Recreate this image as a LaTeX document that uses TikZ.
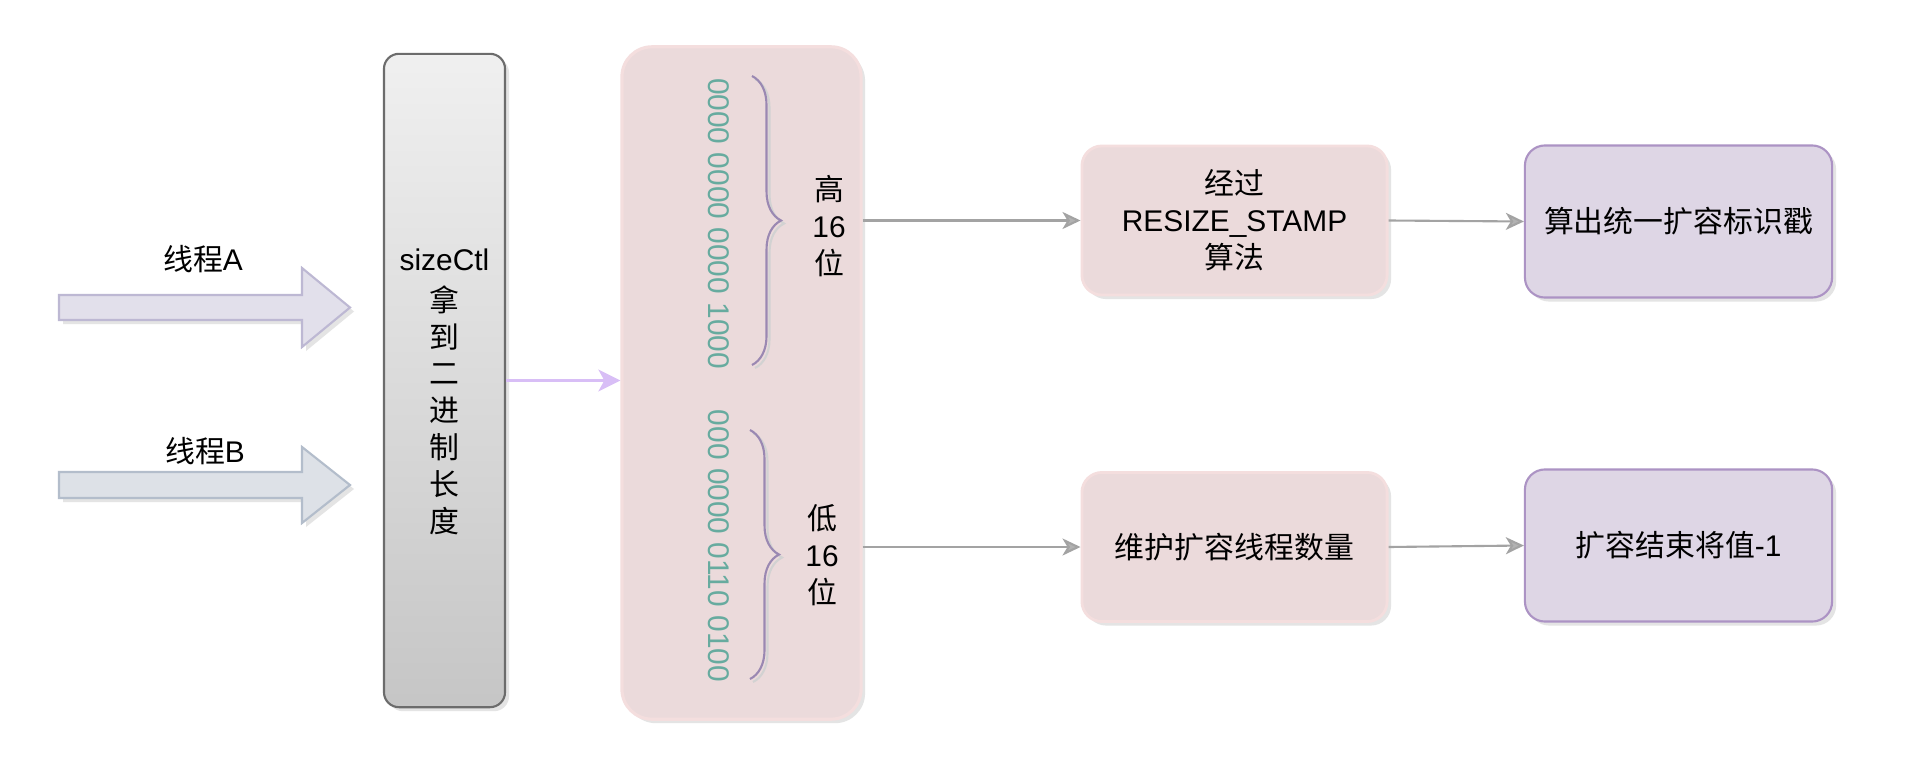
\documentclass[tikz,border=0pt]{standalone}
\usepackage{fontspec}
\setmainfont{Liberation Sans}
\newfontfamily\cjk{Noto Sans CJK SC}
\usetikzlibrary{arrows.meta,shadows,decorations.pathreplacing}

\definecolor{binGreen}{HTML}{67AB9F}
\definecolor{pinkFill}{HTML}{EBDADB}
\definecolor{pinkLine}{HTML}{F4DEDE}
\definecolor{purpFill}{HTML}{DED6E5}
\definecolor{purpLine}{HTML}{AC93C4}
\definecolor{braceCol}{HTML}{9A88B2}
\definecolor{linkGray}{HTML}{A3A3A3}
\definecolor{linkPurp}{HTML}{D8BEF6}
\definecolor{threadFillA}{HTML}{E2E0EB}
\definecolor{threadLineA}{HTML}{BDB8D3}
\definecolor{threadFillB}{HTML}{DDE1E7}
\definecolor{threadLineB}{HTML}{B3BDCB}

\tikzset{
	every node/.style={font=\fontsize{8.5}{10.5}\selectfont, inner sep=0pt},
	dshadow/.style={drop shadow={shadow xshift=0.04cm, shadow yshift=-0.04cm, opacity=0.3, fill=gray!70}},
	ctlbox/.style={draw=gray!85!black, line width=0.6pt, top color=gray!12, bottom color=gray!45,
		rounded corners=0.15cm, minimum width=1.21cm, minimum height=6.53cm, dshadow},
	bitbox/.style={draw=pinkLine, line width=0.9pt, fill=pinkFill, rounded corners=0.3cm,
		minimum width=2.39cm, minimum height=6.72cm, dshadow},
	pinkbox/.style={draw=pinkLine, line width=0.8pt, fill=pinkFill, rounded corners=0.2cm,
		minimum width=3.05cm, minimum height=1.49cm, align=center, dshadow},
	purpbox/.style={draw=purpLine, line width=0.6pt, fill=purpFill, rounded corners=0.2cm,
		minimum width=3.07cm, minimum height=1.52cm, align=center, dshadow},
	bits/.style={text=binGreen, rotate=-90},
	halfbrace/.style={decorate, decoration={brace, amplitude=0.29cm}, draw=braceCol, line width=0.6pt},
	link/.style={draw=linkGray, line width=0.6pt, -{Stealth[length=0.18cm, width=0.17cm, inset=0.05cm, fill=gray!60]}},
	feed/.style={draw=linkPurp, line width=0.6pt, -{Stealth[length=0.22cm, width=0.22cm, inset=0.06cm]}},
}

\begin{document}
\begin{tikzpicture}[x=0.01cm, y=-0.01cm]
	\useasboundingbox[fill=white] (0,0) rectangle (1928,782);

	% Thread arrows
	\draw[fill=threadFillA, draw=threadLineA, line width=0.6pt, dshadow]
		(59,295) -- (302,295) -- (302,268) -- (350,307.5) -- (302,347) -- (302,320) -- (59,320) -- cycle;
	\draw[fill=threadFillB, draw=threadLineB, line width=0.6pt, dshadow]
		(59,472) -- (302,472) -- (302,447) -- (350,485) -- (302,523) -- (302,498) -- (59,498) -- cycle;
	\node (threadA) at (203,259) {{\cjk 线程}A};
	\node (threadB) at (205,451) {{\cjk 线程}B};

	% sizeCtl
	\node[ctlbox] (sizectl) at (444.5,380.5) {};
	\node[align=center] (ctltext) at (444.5,392) {sizeCtl\\[1pt]{\cjk 拿}\\{\cjk 到}\\{\cjk 二}\\{\cjk 进}\\{\cjk 制}\\{\cjk 长}\\{\cjk 度}};

	% Binary value
	\node[bitbox] (bigbox) at (741.5,383) {};
	\node[bits] (hibits) at (719,223.5) {0000 0000 0000 1000};
	\node[bits] (lobits) at (719,546) {000 0000 0110 0100};

	% Braces
	\draw[halfbrace, draw=gray!35] (755,79) -- (755,368);
	\draw[halfbrace] (752,76) -- (752,365);
	\draw[halfbrace, draw=gray!35] (753,433) -- (753,682);
	\draw[halfbrace] (750,430) -- (750,679);
	\node[align=center] (hilbl) at (829,226) {{\cjk 高}\\16\\{\cjk 位}};
	\node[align=center] (lolbl) at (822,555) {{\cjk 低}\\16\\{\cjk 位}};

	% Result boxes
	\node[pinkbox] (stamp) at (1234.5,220.5) {{\cjk 经过}\\RESIZE\_STAMP\\{\cjk 算法}};
	\node[purpbox] (mark) at (1678.5,221.5) {{\cjk 算出统一扩容标识戳}};
	\node[pinkbox] (count) at (1234.5,547) {{\cjk 维护扩容线程数量}};
	\node[purpbox] (done) at (1678.5,545.5) {{\cjk 扩容结束将值}-1};

	% Connectors
	\draw[feed] (sizectl.east) -- (sizectl.east -| bigbox.west);
	\draw[link] (bigbox.east |- stamp.west) -- (stamp.west);
	\draw[link] (stamp.east) -- (mark.west);
	\draw[link] (bigbox.east |- count.west) -- (count.west);
	\draw[link] (count.east) -- (done.west);
\end{tikzpicture}
\end{document}
